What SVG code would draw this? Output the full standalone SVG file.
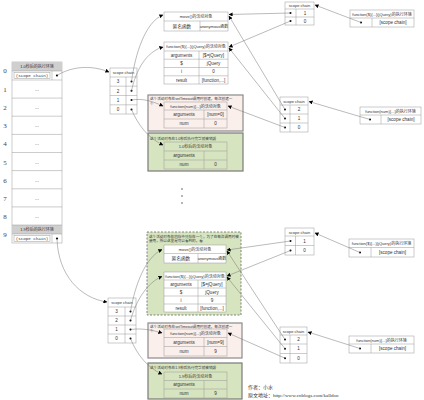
<svg xmlns="http://www.w3.org/2000/svg" width="424" height="400" viewBox="0 0 424 400">
<defs>
<marker id="ah" viewBox="0 0 10 10" refX="9" refY="5" markerWidth="4" markerHeight="4" orient="auto" markerUnits="userSpaceOnUse"><path d="M0,0 L10,5 L0,10 z" fill="#000"/></marker>
<style>
text{font-family:"Liberation Sans","Noto Sans CJK SC",sans-serif;fill:#333;text-anchor:middle}
.h{font-size:4px}
.c{font-size:4.6px}
.s{font-size:3.6px;text-anchor:start}
.n{font-family:"Liberation Serif","Noto Sans CJK SC",serif;font-size:7px;fill:#444}
.sc{font-family:"Liberation Mono",monospace;font-size:4.2px}
.cell{fill:#fff;stroke:#999;stroke-width:0.5}
.in{fill:none;stroke:#999;stroke-width:0.5}
.ln{stroke:#999;stroke-width:0.5}
.dot{fill:#000}
.pink{fill:#fbefeb;stroke:#8a8a8a;stroke-width:1.2}
.green{fill:#d7e4c0;stroke:#7a7a7a;stroke-width:1.2}
.conn path{fill:none;stroke:#777;stroke-width:0.5;marker-end:url(#ah)}
</style>
</defs>
<rect width="424" height="400" fill="#fff"/>

<g id="row-labels">
<text class="n" x="5" y="73">0</text><text class="n" x="5" y="92">1</text><text class="n" x="5" y="110">2</text><text class="n" x="5" y="128">3</text><text class="n" x="5" y="146">4</text><text class="n" x="5" y="164.5">5</text><text class="n" x="5" y="183">6</text><text class="n" x="5" y="201">7</text><text class="n" x="5" y="219">8</text><text class="n" x="5" y="237">9</text>
</g>

<g id="env-stack">
<rect x="12" y="62" width="50" height="181" fill="#fff" stroke="#aaa" stroke-width="0.6"/>
<rect x="12" y="62" width="50" height="9" fill="#cfcfcf"/>
<text class="h" x="37" y="68.2">1.0秒后的执行环境</text>
<line class="ln" x1="12" y1="71" x2="62" y2="71"/><line class="ln" x1="52" y1="71" x2="52" y2="80"/>
<rect class="in" x="14" y="72.5" width="36" height="6"/>
<text class="sc" x="32" y="77">(scope chain)</text>
<circle class="dot" cx="57" cy="75.5" r="1.1"/>
<line class="ln" x1="12" y1="80" x2="62" y2="80"/>
<line class="ln" x1="12" y1="98.1" x2="62" y2="98.1"/>
<line class="ln" x1="12" y1="116.2" x2="62" y2="116.2"/>
<line class="ln" x1="12" y1="134.4" x2="62" y2="134.4"/>
<line class="ln" x1="12" y1="152.5" x2="62" y2="152.5"/>
<line class="ln" x1="12" y1="170.6" x2="62" y2="170.6"/>
<line class="ln" x1="12" y1="188.8" x2="62" y2="188.8"/>
<line class="ln" x1="12" y1="206.9" x2="62" y2="206.9"/>
<text class="c" x="37" y="91">...</text><text class="c" x="37" y="109">...</text><text class="c" x="37" y="127">...</text><text class="c" x="37" y="145">...</text><text class="c" x="37" y="163.5">...</text><text class="c" x="37" y="181.5">...</text><text class="c" x="37" y="199.5">...</text><text class="c" x="37" y="217.5">...</text>
<rect x="12" y="225" width="50" height="9" fill="#cfcfcf"/>
<line class="ln" x1="12" y1="225" x2="62" y2="225"/>
<text class="h" x="37" y="231.2">1.9秒后的执行环境</text>
<line class="ln" x1="12" y1="234" x2="62" y2="234"/><line class="ln" x1="52" y1="234" x2="52" y2="243"/>
<rect class="in" x="14" y="235.5" width="36" height="6"/>
<text class="sc" x="32" y="240">(scope chain)</text>
<circle class="dot" cx="57" cy="238.5" r="1.1"/>
</g>

<g id="scope-chain-1">
<rect class="cell" x="110" y="68" width="27" height="46"/>
<line class="ln" x1="110" y1="77" x2="137" y2="77"/><line class="ln" x1="110" y1="86.2" x2="137" y2="86.2"/><line class="ln" x1="110" y1="95.5" x2="137" y2="95.5"/><line class="ln" x1="110" y1="104.8" x2="137" y2="104.8"/>
<line class="ln" x1="126" y1="77" x2="126" y2="114"/>
<text class="h" x="123.5" y="74">scope chain</text>
<text class="c" x="118" y="83.3">3</text><text class="c" x="118" y="92.5">2</text><text class="c" x="118" y="101.8">1</text><text class="c" x="118" y="111">0</text>
<circle class="dot" cx="131.5" cy="81.6" r="1"/><circle class="dot" cx="131.5" cy="90.8" r="1"/><circle class="dot" cx="131.5" cy="100.1" r="1"/><circle class="dot" cx="131.5" cy="109.4" r="1"/>
</g>

<g id="move-ao-1">
<rect class="cell" x="164" y="12" width="64" height="19"/>
<line class="ln" x1="164" y1="21" x2="228" y2="21"/><line class="ln" x1="200" y1="21" x2="200" y2="31"/>
<text class="h" x="196" y="18">move()的活动对象</text>
<text class="c" x="182" y="27.8">匿名函数</text><text class="h" x="214" y="27.6">anonymous函数</text>
</g>

<g id="jq-ao-1">
<rect class="cell" x="164" y="42" width="64" height="42"/>
<line class="ln" x1="164" y1="51" x2="228" y2="51"/><line class="ln" x1="164" y1="59.2" x2="228" y2="59.2"/><line class="ln" x1="164" y1="67.5" x2="228" y2="67.5"/><line class="ln" x1="164" y1="75.8" x2="228" y2="75.8"/>
<line class="ln" x1="199" y1="51" x2="199" y2="84"/>
<text class="h" x="196" y="48">function($){...}(jQuery)的活动对象</text>
<text class="c" x="181.5" y="56.8">arguments</text><text class="c" x="213.5" y="56.8">[$=jQuery]</text>
<text class="c" x="181.5" y="65">$</text><text class="c" x="213.5" y="65">jQuery</text>
<text class="c" x="181.5" y="73.3">i</text><text class="c" x="213.5" y="73.3">0</text>
<text class="c" x="181.5" y="81.5">result</text><text class="c" x="213.5" y="81.5">[function,...]</text>
</g>

<g id="scope-chain-2">
<rect class="cell" x="285" y="2" width="29" height="23"/>
<line class="ln" x1="285" y1="9" x2="314" y2="9"/><line class="ln" x1="285" y1="17" x2="314" y2="17"/><line class="ln" x1="296" y1="9" x2="296" y2="25"/>
<text class="h" x="299.5" y="7">scope chain</text>
<text class="c" x="305" y="14.7">1</text><text class="c" x="305" y="22.7">0</text>
<circle class="dot" cx="290.5" cy="13" r="1"/><circle class="dot" cx="290.5" cy="21" r="1"/>
</g>

<g id="jq-env-1">
<rect class="cell" x="350" y="10" width="64" height="17"/>
<line class="ln" x1="350" y1="18" x2="414" y2="18"/><line class="ln" x1="372" y1="18" x2="372" y2="27"/>
<text class="h" x="382" y="15.5">function($){...}(jQuery)的执行环境</text>
<circle class="dot" cx="361" cy="22.5" r="1"/>
<text class="c" x="393" y="24.2">[scope chain]</text>
</g>

<g id="num-ao-pink-1">
<rect class="pink" x="148" y="95" width="95" height="36"/>
<text class="s" x="150" y="99.8">这个活动对象在setTimeout调用时创建，每次创建一</text>
<text class="s" x="150" y="104.5">个</text>
<rect class="in" x="164" y="102" width="63" height="26"/>
<line class="ln" x1="164" y1="110" x2="227" y2="110"/><line class="ln" x1="164" y1="119" x2="227" y2="119"/><line class="ln" x1="204" y1="110" x2="204" y2="128"/>
<text class="h" x="195.5" y="107.5">function(num){...}的活动对象</text>
<text class="c" x="184" y="116.2">arguments</text><text class="c" x="215.5" y="116.2">[num=0]</text>
<text class="c" x="184" y="125.2">num</text><text class="c" x="215.5" y="125.2">0</text>
</g>

<g id="num-ao-green-1">
<rect class="green" x="148" y="133" width="95" height="38"/>
<text class="s" x="150" y="139.5">这个活动对象在1.0秒后执行完毕就被销毁</text>
<rect class="in" x="164" y="142" width="63" height="27"/>
<line class="ln" x1="164" y1="151" x2="227" y2="151"/><line class="ln" x1="164" y1="160" x2="227" y2="160"/><line class="ln" x1="204" y1="151" x2="204" y2="169"/>
<text class="h" x="195.5" y="148">1.0秒后的活动对象</text>
<text class="c" x="184" y="157.2">arguments</text>
<text class="c" x="184" y="166.2">num</text><text class="c" x="215.5" y="166.2">0</text>
</g>

<g id="ellipsis">
<circle cx="182" cy="189" r="0.7" fill="#333"/><circle cx="182" cy="196" r="0.7" fill="#333"/><circle cx="182" cy="203" r="0.7" fill="#333"/>
</g>

<g id="scope-chain-3">
<rect class="cell" x="280" y="97" width="28" height="35"/>
<line class="ln" x1="280" y1="105" x2="308" y2="105"/><line class="ln" x1="280" y1="114" x2="308" y2="114"/><line class="ln" x1="280" y1="123" x2="308" y2="123"/><line class="ln" x1="290" y1="105" x2="290" y2="132"/>
<text class="h" x="294" y="102.5">scope chain</text>
<text class="c" x="299" y="111.2">2</text><text class="c" x="299" y="120.2">1</text><text class="c" x="299" y="129.2">0</text>
<circle class="dot" cx="285" cy="109.5" r="1"/><circle class="dot" cx="285" cy="118.5" r="1"/><circle class="dot" cx="285" cy="127.5" r="1"/>
</g>

<g id="num-env-1">
<rect class="cell" x="360" y="107" width="61" height="17"/>
<line class="ln" x1="360" y1="115" x2="421" y2="115"/><line class="ln" x1="381" y1="115" x2="381" y2="124"/>
<text class="h" x="390.5" y="112.7">function(num){...}的执行环境</text>
<circle class="dot" cx="370" cy="119.5" r="1"/>
<text class="c" x="401" y="121.2">[scope chain]</text>
</g>

<g id="scope-chain-4">
<rect class="cell" x="108" y="298" width="28" height="45"/>
<line class="ln" x1="108" y1="307" x2="136" y2="307"/><line class="ln" x1="108" y1="316" x2="136" y2="316"/><line class="ln" x1="108" y1="325" x2="136" y2="325"/><line class="ln" x1="108" y1="334" x2="136" y2="334"/>
<line class="ln" x1="125" y1="307" x2="125" y2="343"/>
<text class="h" x="122" y="304">scope chain</text>
<text class="c" x="116.5" y="313.2">3</text><text class="c" x="116.5" y="322.2">2</text><text class="c" x="116.5" y="331.2">1</text><text class="c" x="116.5" y="340.2">0</text>
<circle class="dot" cx="130.5" cy="311.5" r="1"/><circle class="dot" cx="130.5" cy="320.5" r="1"/><circle class="dot" cx="130.5" cy="329.5" r="1"/><circle class="dot" cx="130.5" cy="338.5" r="1"/>
</g>

<g id="closure-kept">
<rect x="147" y="232" width="94" height="83" fill="#d7e4c0" stroke="#777" stroke-width="0.9" stroke-dasharray="2,1.5"/>
<text class="s" x="149" y="237.5">这个活动对象在内存中只存在一个，为了在每次调用时被</text>
<text class="s" x="149" y="242">使用，所以这里是可以看到的，看</text>
</g>

<g id="move-ao-2">
<rect class="cell" x="164" y="245" width="62" height="18"/>
<line class="ln" x1="164" y1="253.5" x2="226" y2="253.5"/><line class="ln" x1="198" y1="253.5" x2="198" y2="263"/>
<text class="h" x="195" y="250.7">move()的活动对象</text>
<text class="c" x="181" y="260">匿名函数</text><text class="h" x="212" y="259.8">anonymous函数</text>
</g>

<g id="jq-ao-2">
<rect class="cell" x="164" y="272" width="62" height="40"/>
<line class="ln" x1="164" y1="280" x2="226" y2="280"/><line class="ln" x1="164" y1="288" x2="226" y2="288"/><line class="ln" x1="164" y1="296" x2="226" y2="296"/><line class="ln" x1="164" y1="304" x2="226" y2="304"/>
<line class="ln" x1="198" y1="280" x2="198" y2="312"/>
<text class="h" x="195" y="277.7">function($){...}(jQuery)的活动对象</text>
<text class="c" x="181" y="285.7">arguments</text><text class="c" x="212" y="285.7">[$=jQuery]</text>
<text class="c" x="181" y="293.7">$</text><text class="c" x="212" y="293.7">jQuery</text>
<text class="c" x="181" y="301.7">i</text><text class="c" x="212" y="301.7">9</text>
<text class="c" x="181" y="309.7">result</text><text class="c" x="212" y="309.7">[function,...]</text>
</g>

<g id="num-ao-pink-2">
<rect class="pink" x="148" y="323" width="94" height="35"/>
<text class="s" x="150" y="327.8">这个活动对象在setTimeout调用时创建，每次创建一</text>
<text class="s" x="150" y="332.3">个</text>
<rect class="in" x="164" y="329" width="63" height="27"/>
<line class="ln" x1="164" y1="337.5" x2="227" y2="337.5"/><line class="ln" x1="164" y1="346.5" x2="227" y2="346.5"/><line class="ln" x1="204" y1="337.5" x2="204" y2="356"/>
<text class="h" x="195.5" y="334.8">function(num){...}的活动对象</text>
<text class="c" x="184" y="343.7">arguments</text><text class="c" x="215.5" y="343.7">[num=9]</text>
<text class="c" x="184" y="352.9">num</text><text class="c" x="215.5" y="352.9">9</text>
</g>

<g id="num-ao-green-2">
<rect class="green" x="148" y="363" width="94" height="36"/>
<text class="s" x="150" y="369">这个活动对象在1.9秒后执行完毕就被销毁</text>
<rect class="in" x="164" y="372" width="63" height="26"/>
<line class="ln" x1="164" y1="380.5" x2="227" y2="380.5"/><line class="ln" x1="164" y1="389" x2="227" y2="389"/><line class="ln" x1="204" y1="380.5" x2="204" y2="398"/>
<text class="h" x="195.5" y="377.8">1.9秒后的活动对象</text>
<text class="c" x="184" y="386.4">arguments</text>
<text class="c" x="184" y="395.3">num</text><text class="c" x="215.5" y="395.3">9</text>
</g>

<g id="scope-chain-5">
<rect class="cell" x="285" y="228" width="29" height="27"/>
<line class="ln" x1="285" y1="236" x2="314" y2="236"/><line class="ln" x1="285" y1="245.5" x2="314" y2="245.5"/><line class="ln" x1="295.5" y1="236" x2="295.5" y2="255"/>
<text class="h" x="299.5" y="233.5">scope chain</text>
<text class="c" x="304.5" y="242.5">1</text><text class="c" x="304.5" y="252">0</text>
<circle class="dot" cx="290.5" cy="241" r="1"/><circle class="dot" cx="290.5" cy="250.5" r="1"/>
</g>

<g id="jq-env-2">
<rect class="cell" x="349" y="239" width="65" height="18"/>
<line class="ln" x1="349" y1="247.5" x2="414" y2="247.5"/><line class="ln" x1="371" y1="247.5" x2="371" y2="257"/>
<text class="h" x="381.5" y="245">function($){...}(jQuery)的执行环境</text>
<circle class="dot" cx="360" cy="252.5" r="1"/>
<text class="c" x="392.5" y="254.2">[scope chain]</text>
</g>

<g id="scope-chain-6">
<rect class="cell" x="280" y="327" width="27" height="36"/>
<line class="ln" x1="280" y1="335" x2="307" y2="335"/><line class="ln" x1="280" y1="344" x2="307" y2="344"/><line class="ln" x1="280" y1="353.5" x2="307" y2="353.5"/><line class="ln" x1="290" y1="335" x2="290" y2="363"/>
<text class="h" x="293.5" y="332.5">scope chain</text>
<text class="c" x="298.5" y="341.2">2</text><text class="c" x="298.5" y="350.4">1</text><text class="c" x="298.5" y="359.9">0</text>
<circle class="dot" cx="285" cy="339.5" r="1"/><circle class="dot" cx="285" cy="348.7" r="1"/><circle class="dot" cx="285" cy="358.2" r="1"/>
</g>

<g id="num-env-2">
<rect class="cell" x="349" y="336" width="65" height="17"/>
<line class="ln" x1="349" y1="344" x2="414" y2="344"/><line class="ln" x1="371" y1="344" x2="371" y2="353"/>
<text class="h" x="381.5" y="341.8">function(num){...}的执行环境</text>
<circle class="dot" cx="360" cy="348.5" r="1"/>
<text class="c" x="392.5" y="350.2">[scope chain]</text>
</g>

<g id="credit">
<text x="248" y="389" style="font-family:'Liberation Serif','Noto Sans CJK SC',serif;font-size:5px;text-anchor:start">作者：小水</text>
<text x="248" y="397" style="font-family:'Liberation Serif','Noto Sans CJK SC',serif;font-size:5px;text-anchor:start">原文地址：http://www.cnblogs.com/kalldon</text>
</g>

<g class="conn" id="connectors">
<path d="M57,75.5 C72,66 92,65 109,72"/>
<path d="M131.5,81.6 C135,55 145,22 163,15"/>
<path d="M131.5,90.8 C136,70 146,52 163,47"/>
<path d="M131.5,100.1 C142,98 152,101 163,106"/>
<path d="M131.5,109.4 C138,125 148,138 163,145"/>
<path d="M290.5,13 L229,14.5"/>
<path d="M290.5,21 L229,47"/>
<path d="M361,22.5 L315,5"/>
<path d="M285,109.5 L229,16"/>
<path d="M285,118.5 L229,48"/>
<path d="M285,127.5 L228,106"/>
<path d="M370,119.5 L309,101.5"/>
<path d="M57,238.5 C58,275 80,298 107,302"/>
<path d="M130.5,311.5 C135,285 145,258 162,249.5"/>
<path d="M130.5,320.5 C136,300 148,282 162,276.5"/>
<path d="M130.5,329.5 C142,328 152,330 162,333"/>
<path d="M130.5,338.5 C137,355 148,368 162,374"/>
<path d="M290.5,241 L227,250"/>
<path d="M290.5,250.5 L227,276"/>
<path d="M360,252.5 L315,233"/>
<path d="M285,339.5 L227,251"/>
<path d="M285,348.7 L227,277"/>
<path d="M285,358.2 L228,333"/>
<path d="M360,348.5 L308,332"/>
</g>
</svg>
